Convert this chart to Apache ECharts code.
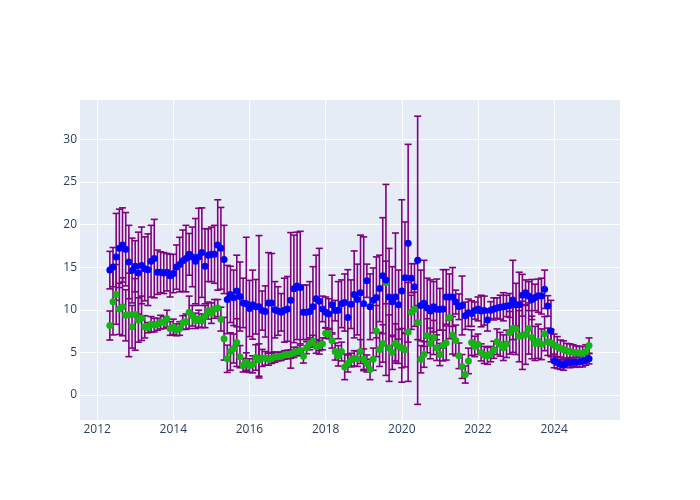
<!DOCTYPE html>
<html><head><meta charset="utf-8">
<script src="https://cdn.jsdelivr.net/npm/echarts@6/dist/echarts.min.js"></script>
<style>html,body{margin:0;padding:0;background:#fff}#c{width:700px;height:500px}</style>
</head><body><div id="c"></div>
<script>
const months = [
'2012-05','2012-06','2012-07','2012-08','2012-09','2012-10','2012-11','2012-12',
'2013-01','2013-02','2013-03','2013-04','2013-05','2013-06','2013-07','2013-08','2013-09','2013-10','2013-11','2013-12',
'2014-01','2014-02','2014-03','2014-04','2014-05','2014-06','2014-07','2014-08','2014-09','2014-10','2014-11','2014-12',
'2015-01','2015-02','2015-03','2015-04','2015-05','2015-06','2015-07','2015-08','2015-09','2015-10','2015-11','2015-12',
'2016-01','2016-02','2016-03','2016-04','2016-05','2016-06','2016-07','2016-08','2016-09','2016-10','2016-11','2016-12',
'2017-01','2017-02','2017-03','2017-04','2017-05','2017-06','2017-07','2017-08','2017-09','2017-10','2017-11','2017-12',
'2018-01','2018-02','2018-03','2018-04','2018-05','2018-06','2018-07','2018-08','2018-09','2018-10','2018-11','2018-12',
'2019-01','2019-02','2019-03','2019-04','2019-05','2019-06','2019-07','2019-08','2019-09','2019-10','2019-11','2019-12',
'2020-01','2020-02','2020-03','2020-04','2020-05','2020-06','2020-07','2020-08','2020-09','2020-10','2020-11','2020-12',
'2021-01','2021-02','2021-03','2021-04','2021-05','2021-06','2021-07','2021-08','2021-09','2021-10','2021-11','2021-12',
'2022-01','2022-02','2022-03','2022-04','2022-05','2022-06','2022-07','2022-08','2022-09','2022-10','2022-11','2022-12',
'2023-01','2023-02','2023-03','2023-04','2023-05','2023-06','2023-07','2023-08','2023-09','2023-10','2023-11','2023-12',
'2024-01','2024-02','2024-03','2024-04','2024-05','2024-06','2024-07','2024-08','2024-09','2024-10','2024-11','2024-12'
];
const blueValues = [
14.65,15.0,16.2,17.2,17.6,17.1,15.6,14.6,15.1,14.3,15.2,14.8,14.7,15.7,16.0,14.4,14.4,14.3,14.4,14.0,
14.25,15.0,15.3,15.75,16.0,16.5,16.2,15.7,16.2,16.7,15.1,16.4,16.5,16.5,17.6,17.2,15.9,11.2,11.8,11.4,
12.2,11.55,10.8,10.7,10.15,10.6,10.35,10.35,9.9,9.8,10.8,10.8,10.0,9.85,9.7,9.95,10.1,11.1,12.45,12.8,
12.6,9.7,9.7,9.8,10.35,11.3,11.0,10.1,9.7,9.5,10.6,9.9,9.95,10.7,10.85,9.1,10.65,11.8,11.2,12.0,
10.7,13.4,10.35,11.1,11.45,12.5,14.0,13.5,11.5,10.95,11.5,10.6,12.2,13.75,17.8,13.7,12.7,15.8,10.5,10.75,
10.2,9.85,10.35,10.05,10.05,10.1,11.5,11.5,11.5,10.9,10.35,10.5,9.3,9.65,9.55,9.9,10.1,9.85,9.9,8.8,
9.95,10.1,10.2,10.3,10.35,10.45,10.5,11.15,10.6,10.6,11.7,12.0,11.6,11.2,11.45,11.65,11.6,12.4,10.45,7.5,
4.0,3.8,3.6,3.5,3.75,3.8,3.85,3.85,3.9,4.0,4.1,4.25
];
const blueErrors = [
2.2,2.3,5.1,4.6,4.35,4.3,4.3,3.8,3.0,4.8,4.5,3.75,4.2,4.2,4.6,2.6,2.4,2.4,2.2,2.5,
2.25,2.6,3.2,3.6,3.9,2.45,3.5,5.0,5.7,5.25,4.4,3.1,3.2,3.4,5.3,4.8,4.0,4.0,3.3,3.25,
4.2,4.05,2.9,7.8,3.3,4.05,3.2,8.35,2.3,3.0,5.9,5.8,3.3,2.85,2.2,3.75,3.8,7.95,6.3,6.3,
6.6,3.2,3.2,3.5,4.7,5.1,6.2,1.5,1.8,1.8,3.45,1.2,3.35,2.8,3.35,5.6,2.85,5.1,4.15,6.75,
7.85,1.95,3.85,3.8,4.75,3.9,6.8,11.2,5.7,4.1,7.5,4.05,10.7,6.55,11.6,1.7,2.7,16.9,4.15,5.05,
3.5,3.65,2.95,3.55,2.45,4.6,3.2,2.7,3.45,1.4,1.5,3.45,1.6,1.6,1.5,1.0,1.4,1.85,1.7,1.3,
1.0,1.3,1.2,1.4,1.65,1.25,1.4,4.65,2.5,3.8,2.45,1.5,1.7,2.35,1.55,1.95,2.1,2.25,1.2,3.6,
0.8,0.7,0.6,0.6,0.5,0.6,0.5,0.6,0.6,0.7,0.6,0.6
];
const greenValues = [
8.15,10.95,11.8,10.1,10.35,9.35,9.4,8.0,9.45,8.8,9.0,8.0,7.9,8.3,8.2,8.3,8.55,8.5,8.95,7.8,
8.0,7.65,7.8,8.5,8.6,9.7,9.3,8.7,8.95,8.7,9.2,9.9,9.6,10.1,10.2,8.9,6.6,4.25,5.1,5.45,
6.15,4.5,3.5,3.85,3.45,3.6,4.4,4.1,4.35,4.3,4.2,4.3,4.45,4.5,4.55,4.7,4.75,4.8,5.0,5.1,
5.25,4.55,5.55,6.0,6.3,5.7,5.8,6.0,7.25,7.2,6.4,5.1,4.6,5.1,3.3,3.7,4.1,4.3,4.25,5.1,
4.2,3.7,3.0,4.2,7.5,5.35,6.05,13.2,5.5,5.0,6.05,5.7,5.5,5.3,7.4,9.7,10.05,8.5,4.2,4.75,
6.95,6.05,6.75,5.55,4.75,5.8,6.1,9.1,7.0,6.4,4.6,3.35,2.4,4.0,6.15,5.7,5.95,5.0,4.7,4.6,
4.8,5.3,6.25,5.95,5.55,6.0,7.3,7.8,7.75,6.9,7.0,7.1,7.8,6.75,6.05,6.3,5.95,7.2,6.25,6.1,
5.85,5.65,5.45,5.35,5.15,5.1,5.0,4.95,4.9,4.9,5.1,5.8
];
const greenErrors = [
1.7,3.9,3.5,3.0,3.4,3.0,4.9,2.5,4.2,2.6,2.6,1.3,0.6,0.9,0.8,0.7,0.8,0.7,1.0,0.8,
0.9,0.7,0.8,0.8,0.9,1.9,1.2,0.9,1.0,0.8,1.3,1.0,1.2,1.1,1.0,1.4,2.5,1.6,2.2,1.7,
2.8,1.3,0.8,1.1,0.8,1.0,1.5,1.9,1.0,0.8,0.7,0.6,0.6,0.5,0.5,0.5,0.5,0.5,0.6,0.5,
0.6,0.8,0.7,0.7,0.7,0.8,0.6,0.7,0.6,0.6,0.9,1.0,1.2,1.1,1.5,1.0,0.8,0.9,0.9,1.4,
1.2,1.0,1.2,1.3,3.0,2.0,2.2,2.5,3.9,2.0,2.3,2.0,2.3,2.0,5.8,2.0,2.0,2.0,1.6,1.5,
2.0,1.8,2.0,1.5,1.3,1.8,2.0,2.5,2.2,1.8,1.5,1.4,1.0,1.5,1.5,1.2,1.2,1.0,1.0,1.0,
0.9,1.0,1.5,1.4,1.5,1.6,2.5,2.8,3.0,3.0,4.0,3.5,3.0,2.5,2.0,2.0,1.8,2.0,1.6,1.6,
1.3,1.2,1.0,1.0,0.9,0.9,0.9,0.8,0.8,0.8,0.8,0.9
];
const xTicks = [2012, 2014, 2016, 2018, 2020, 2022, 2024];
const yTicks = [0, 5, 10, 15, 20, 25, 30];

function toX(m) { const p = m.split('-').map(Number); return p[0] + (p[1] - 1) / 12; }
const xs = months.map(toX);

function errSeries(vals, errs) {
  return {
    type: 'custom', silent: true, z: 2,
    data: xs.map((x, i) => [x, vals[i] - errs[i], vals[i] + errs[i]]),
    encode: { x: 0, y: [1, 2] },
    renderItem: function (params, api) {
      const x = api.value(0);
      const lo = api.coord([x, api.value(1)]);
      const hi = api.coord([x, api.value(2)]);
      const w = 3.5;
      const st = { stroke: '#800080', lineWidth: 1.6 };
      return { type: 'group', children: [
        { type: 'line', shape: { x1: lo[0], y1: lo[1], x2: hi[0], y2: hi[1] }, style: st },
        { type: 'line', shape: { x1: lo[0] - w, y1: lo[1], x2: lo[0] + w, y2: lo[1] }, style: st },
        { type: 'line', shape: { x1: hi[0] - w, y1: hi[1], x2: hi[0] + w, y2: hi[1] }, style: st }
      ]};
    }
  };
}

const chart = echarts.init(document.getElementById('c'), null, { renderer: 'canvas' });
const labelStyle = { color: '#2a3f5f', fontFamily: 'Open Sans', fontSize: 12 };
chart.setOption({
  animation: false,
  backgroundColor: '#ffffff',
  grid: { left: 80, right: 80, top: 100, bottom: 80, show: true, backgroundColor: '#E5ECF6', borderWidth: 0 },
  xAxis: {
    type: 'value', min: 2011.55, max: 2025.73,
    axisLine: { show: false },
    axisTick: { show: false, customValues: xTicks },
    axisLabel: Object.assign({ customValues: xTicks, margin: 4, formatter: v => String(Math.round(v)) }, labelStyle),
    splitLine: { show: true, lineStyle: { color: '#ffffff', width: 1 } }
  },
  yAxis: {
    type: 'value', min: -2.93, max: 34.6,
    axisLine: { show: false },
    axisTick: { show: false, customValues: yTicks },
    axisLabel: Object.assign({ customValues: yTicks, margin: 3, formatter: v => String(Math.round(v)) }, labelStyle),
    splitLine: { show: true, lineStyle: { color: '#ffffff', width: 1 } }
  },
  series: [
    errSeries(greenValues, greenErrors),
    errSeries(blueValues, blueErrors),
    { type: 'scatter', z: 3, symbol: 'circle', symbolSize: 7, itemStyle: { color: '#14b414', opacity: 1 },
      data: xs.map((x, i) => [x, greenValues[i]]) },
    { type: 'scatter', z: 4, symbol: 'circle', symbolSize: 7, itemStyle: { color: '#0000ff', opacity: 1 },
      data: xs.map((x, i) => [x, blueValues[i]]) }
  ]
});
</script>
</body></html>
